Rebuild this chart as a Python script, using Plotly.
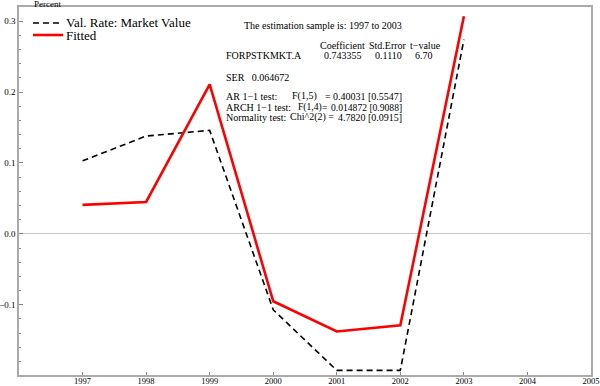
import plotly.graph_objects as go

years = [1997, 1998, 1999, 2000, 2001, 2002, 2003]
val_rate = [0.103, 0.138, 0.146, -0.107, -0.1925, -0.1925, 0.274]
fitted = [0.041, 0.045, 0.211, -0.095, -0.1376, -0.129, 0.307]
series_names = ["Val. Rate: Market Value", "Fitted"]

y_tickvals = [-0.1, 0.0, 0.1, 0.2, 0.3]
y_ticktext = ["\u22120.1", "0.0", "0.1", "0.2", "0.3"]
x_tickvals = [1997, 1998, 1999, 2000, 2001, 2002, 2003, 2004, 2005]

W, H = 600, 386
L, R, T, B = 19, 9, 7, 11
PW, PH = W - L - R, H - T - B

def px(x):
    return (x - L) / PW

def py(y):
    return 1 - (y - T) / PH

FONT = "Liberation Serif"
BLACK_LINE = dict(color="black", width=1.6, dash="6px,4px")
RED_LINE = dict(color="#ff0000", width=2.6)

fig = go.Figure()
fig.add_trace(go.Scatter(x=years, y=val_rate, mode="lines", name=series_names[0],
                         line=BLACK_LINE, showlegend=False))
fig.add_trace(go.Scatter(x=years, y=fitted, mode="lines", name=series_names[1],
                         line=RED_LINE, showlegend=False))

fig.update_layout(
    width=W, height=H,
    margin=dict(l=L, r=R, t=T, b=B),
    paper_bgcolor="white", plot_bgcolor="white",
    font=dict(family=FONT, color="black", size=9),
    showlegend=False,
)

fig.update_xaxes(range=[1996, 2005], tickvals=x_tickvals, ticks="inside", ticklen=3,
                 tickcolor="#888", showgrid=False, zeroline=False, automargin=False,
                 ticklabeloverflow="allow", ticklabelstandoff=-3,
                 showline=True, linecolor="#aaa", linewidth=1.5, mirror=True,
                 tickfont=dict(family=FONT, size=8.5))
fig.update_yaxes(range=[-0.199, 0.32], tickvals=y_tickvals, ticktext=y_ticktext,
                 ticks="inside", ticklen=4, tickcolor="#888", automargin=False,
                 ticklabeloverflow="allow",
                 minor=dict(dtick=0.02, tick0=0, ticks="inside", ticklen=2, tickcolor="#888"),
                 showgrid=False, zeroline=True, zerolinecolor="#c8c8c8", zerolinewidth=1,
                 showline=True, linecolor="#aaa", linewidth=1.5, mirror=True,
                 tickfont=dict(family=FONT, size=9))

ann = []

def txt(s, x, y, anchor="left", size=10):
    ann.append(dict(text=s, x=px(x), y=py(y), xref="paper", yref="paper",
                    xanchor=anchor, yanchor="middle", showarrow=False,
                    font=dict(family=FONT, size=size, color="black")))

# custom legend
shapes = []
for i, (nm, ln) in enumerate(zip(series_names, [BLACK_LINE, RED_LINE])):
    yy = 23 + 12 * i
    shapes.append(dict(type="line", xref="paper", yref="paper",
                       x0=px(33), x1=px(63), y0=py(yy), y1=py(yy), line=ln))
    txt(nm, 64, yy, "left", 13)

txt("Percent", 47, 4, "center", 9)
txt("The estimation sample is: 1997 to 2003", 242, 25)
txt("Coefficient", 342, 45, "center")
txt("Std.Error", 388, 45, "center")
txt("t\u2212value", 425, 45, "center")
txt("FORPSTKMKT.A", 224, 56)
txt("0.743355", 343, 56, "center")
txt("0.1110", 388, 56, "center")
txt("6.70", 424, 56, "center")
txt("SER\u00a0\u00a0\u00a00.064672", 224, 77)
txt("AR 1\u22121 test:", 224, 96)
txt("F(1,5)", 290, 96)
txt("=", 323, 96)
txt("0.40031 [0.5547]", 404, 96, "right")
txt("ARCH 1\u22121 test:", 224, 107)
txt("F(1,4)", 296, 107, "left", 9.6)
txt("=", 320, 107, "left", 9.6)
txt("0.014872 [0.9088]", 404, 107, "right", 9.6)
txt("Normality test:", 224, 117)
txt("Chi^2(2) =", 288, 117)
txt("4.7820 [0.0915]", 404, 117, "right")

fig.update_layout(annotations=ann, shapes=shapes)
fig.write_html("out.html", config={"displayModeBar": False},
               post_script="document.body.style.margin='0';")
